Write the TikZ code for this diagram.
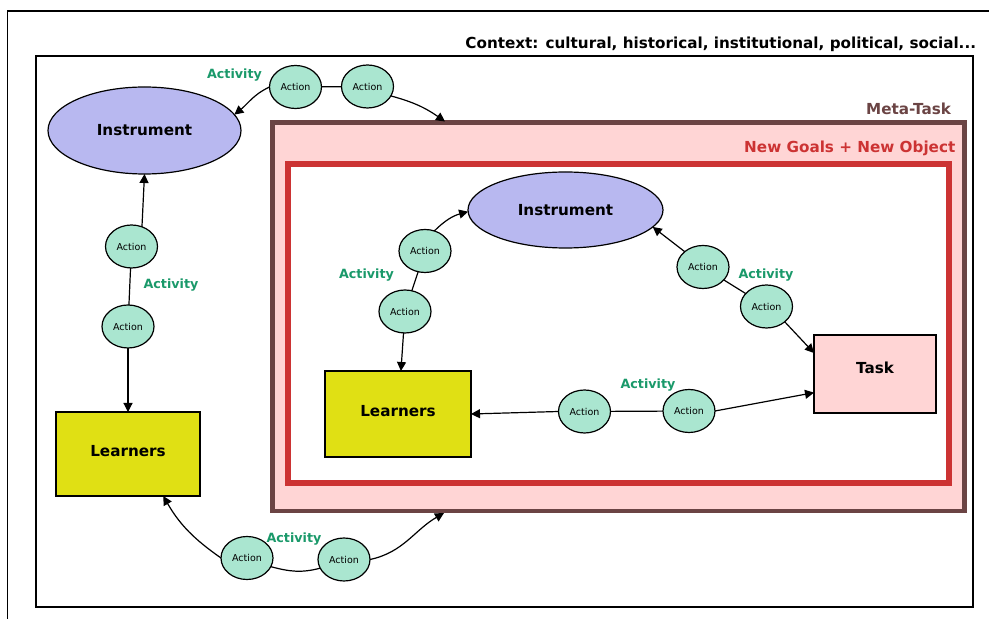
\documentclass[tikz,border=0pt]{standalone}
\usepackage{fontspec}
\setmainfont{DejaVu Sans}
\usetikzlibrary{shapes.geometric,arrows.meta}
\definecolor{instc}{RGB}{184,184,240}
\definecolor{learnc}{RGB}{224,224,20}
\definecolor{actc}{RGB}{170,230,208}
\definecolor{pinkc}{RGB}{255,213,213}
\definecolor{metac}{RGB}{107,68,68}
\definecolor{redc}{RGB}{204,51,51}
\definecolor{greenc}{RGB}{26,153,106}
\begin{document}
\begin{tikzpicture}[x=1pt,y=1pt,
  every node/.style={inner sep=0pt,outer sep=0pt},
  bigfont/.style={font=\bfseries\fontsize{15.2}{18}\selectfont},
  actn/.style={ellipse,draw,line width=1.2pt,fill=actc,minimum width=52pt,minimum height=43pt,font=\fontsize{9.5}{11}\selectfont},
  instn/.style={ellipse,draw,line width=1.2pt,fill=instc,bigfont},
  learnn/.style={rectangle,draw,line width=1.2pt,fill=learnc,bigfont,text height=11pt,text depth=5pt},
  taskn/.style={rectangle,draw,line width=1.2pt,fill=pinkc,bigfont,text height=11pt,text depth=12pt},
  actlbl/.style={text=greenc,font=\bfseries\fontsize{12.7}{15}\selectfont},
  conn/.style={line width=1.2pt},
  arr/.style={line width=1.2pt,-{Triangle[length=9pt,width=9pt]}}]
\useasboundingbox (0,0) rectangle (989,619);
\fill[white] (0,0) rectangle (989,619);
% outer (cropped) frame
\draw[line width=1.5pt] (7.5,0) -- (7.5,608) -- (989,608);
% context box
\node[draw,line width=1.5pt,minimum width=937pt,minimum height=551pt] (ctx) at (504.5,287.5) {};
\node[anchor=base east,bigfont] (ctxlbl) at (976,570.5) {Context: cultural, historical, institutional, political, social...};
% meta-task box
\node[draw=metac,line width=4.5pt,fill=pinkc,minimum width=692pt,minimum height=388.5pt] (meta) at (618.5,302.25) {};
\node[anchor=base east,bigfont,text=metac] (metalbl) at (951,504.7) {Meta-Task};
% new goals box
\node[draw=redc,line width=6pt,fill=white,minimum width=661pt,minimum height=319.6pt] (goals) at (618.5,295.5) {};
\node[anchor=base east,bigfont,text=redc] (goalslbl) at (955.3,466.3) {New Goals + New Object};
% main nodes
\node[instn,minimum width=193pt,minimum height=87pt] (instL) at (144.5,488.5) {Instrument};
\node[instn,minimum width=195pt,minimum height=76pt] (instI) at (565.5,409) {Instrument};
\node[learnn,minimum width=144pt,minimum height=84pt] (learnL) at (128,165) {Learners};
\node[learnn,minimum width=146pt,minimum height=86pt] (learnI) at (398,205) {Learners};
\node[taskn,minimum width=122pt,minimum height=78pt] (task) at (875,245) {Task};
% action nodes
\node[actn] (a1) at (295.5,532) {Action};
\node[actn] (a2) at (367.5,532.5) {Action};
\node[actn] (b1) at (131.5,372.5) {Action};
\node[actn] (b2) at (128,292.5) {Action};
\node[actn] (c1) at (247,61) {Action};
\node[actn] (c2) at (344,59.5) {Action};
\node[actn] (d1) at (425,368) {Action};
\node[actn] (d2) at (405,307.5) {Action};
\node[actn] (e1) at (584.5,207.5) {Action};
\node[actn] (e2) at (689,208) {Action};
\node[actn] (f1) at (703,352) {Action};
\node[actn] (f2) at (766.5,312.5) {Action};
% activity labels
\node[actlbl] (act1) at (234.5,544) {Activity};
\node[actlbl] (act2) at (171,334) {Activity};
\node[actlbl] (act3) at (294,80) {Activity};
\node[actlbl] (act4) at (366.5,344) {Activity};
\node[actlbl] (act5) at (648,234) {Activity};
\node[actlbl] (act6) at (766,344) {Activity};
% free ends on meta-task border
\coordinate (mtop) at (445,497.5);
\coordinate (mbot) at (444,106);
% connectors
\draw[arr] (a1.west) to[out=205,in=39] (instL.10);
\draw[conn] (a1) -- (a2);
\draw[arr] (a2.-22) to[out=-15,in=145] (mtop);
\draw[arr] (b1.62) -- (instL.south);
\draw[conn] (b1) -- (b2);
\draw[arr] (b2) -- (learnL);
\draw[arr] (c1.west) to[out=145,in=-60] (learnL.-50);
\draw[conn] (c1.-20) to[out=-15,in=195] (c2.200);
\draw[arr] (c2.east) to[out=12,in=210] (mbot);
\draw[arr] (d1.65) to[out=45,in=195] (instI.181);
\draw[conn] (d1) -- (d2);
\draw[arr] (d2) -- (learnI);
\draw[arr] (e1.west) -- (learnI.east);
\draw[conn] (e1) -- (e2);
\draw[arr] (e2.east) -- (task.197);
\draw[arr] (f1.140) -- (instI.-11);
\draw[conn] (f1) -- (f2);
\draw[arr] (f2.-40) -- (task.161);
\end{tikzpicture}
\end{document}
